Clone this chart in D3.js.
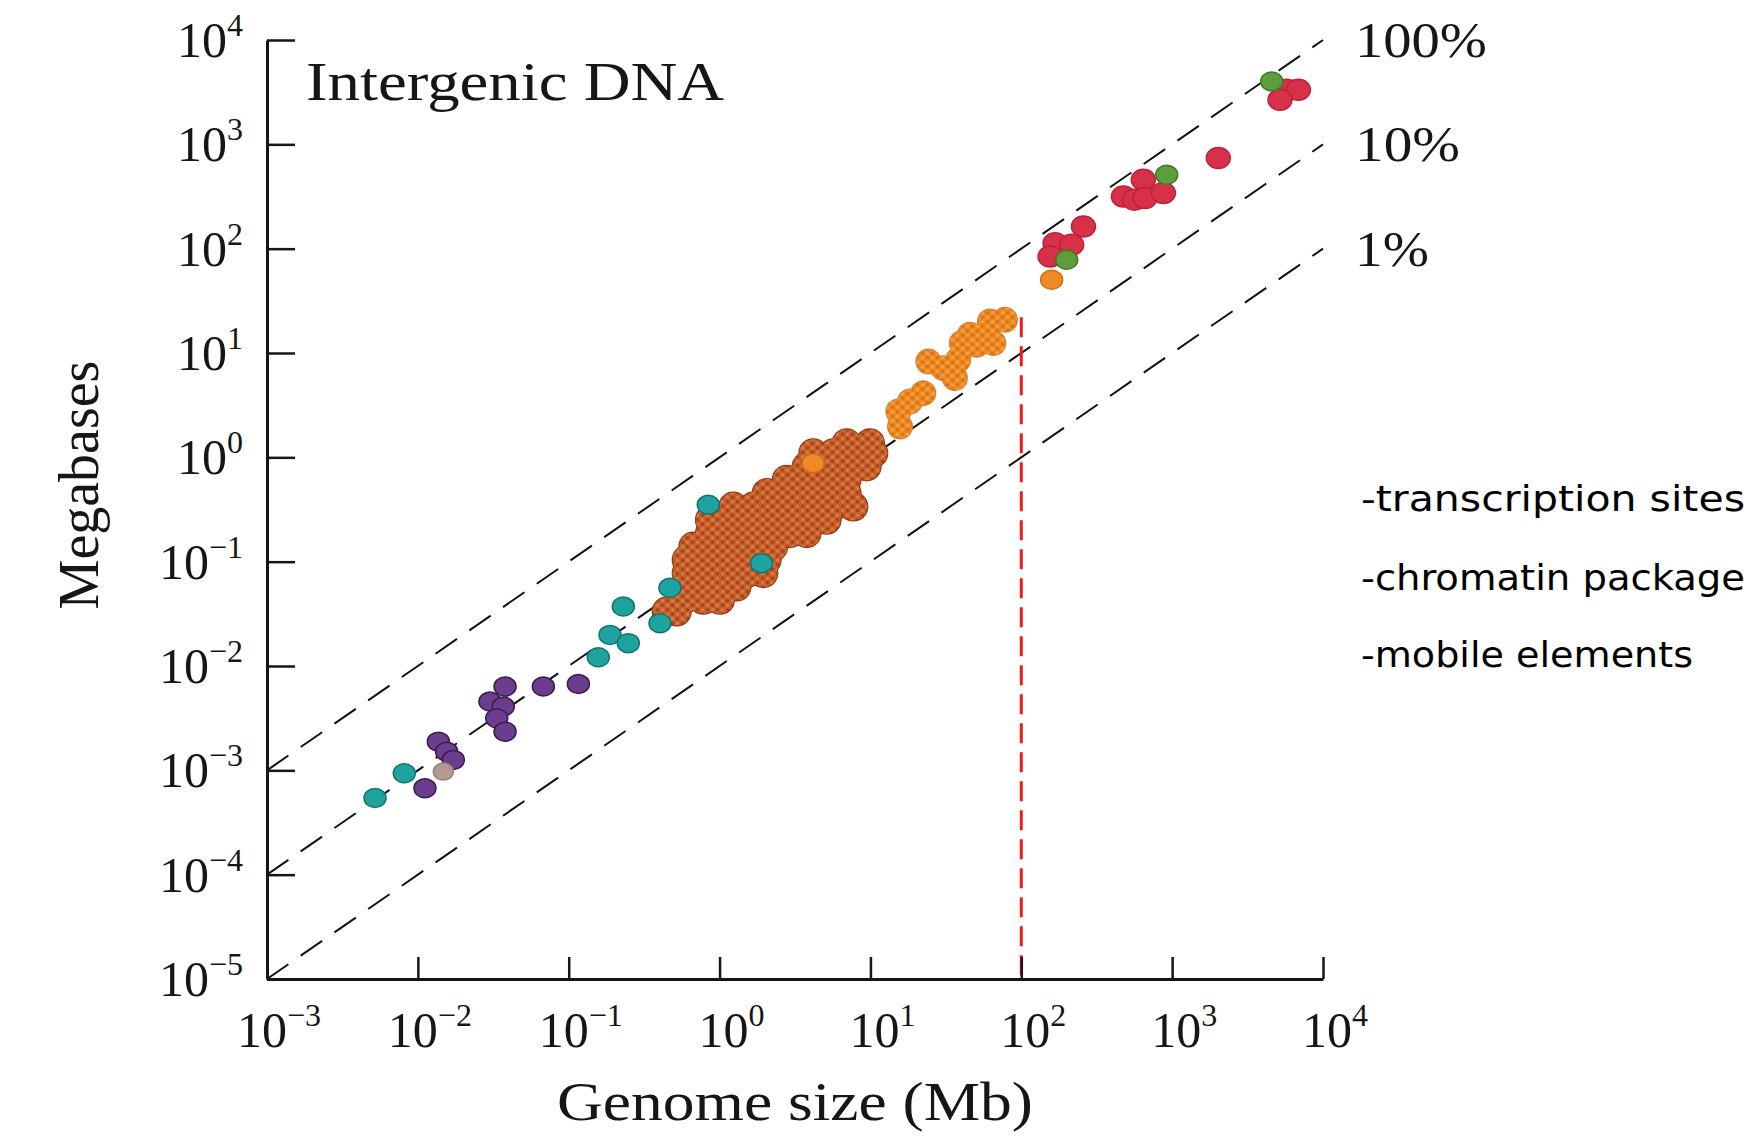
<!DOCTYPE html>
<html>
<head>
<meta charset="utf-8">
<script src="https://cdn.jsdelivr.net/npm/d3@7"></script>
<style>
  body { margin: 0; background: #fff; }
  svg { display: block; }
</style>
</head>
<body>
<svg width="1762" height="1136"></svg>
<script>
/* global d3 */

// Axis ticks (log10 exponents)
const xTickExps = [-3, -2, -1, 0, 1, 2, 3, 4];
const yTickExps = [-5, -4, -3, -2, -1, 0, 1, 2, 3, 4];

// Dashed guides: intergenic DNA as a share of the genome
const percentShares = [1, 0.1, 0.01];
const percentLabels = ['100%', '10%', '1%'];

// Red cut-off line (genome size in Mb, top in Mb)
const cutoffX = 100;
const cutoffTop = 22;

// Points as [log10 genome size (Mb), log10 intergenic DNA (Mb)]
const tealPts = [
  [-2.284, -3.265], [-2.09, -3.028], [-0.804, -1.916], [-0.726, -1.702],
  [-0.605, -1.781], [-0.638, -1.43], [-0.395, -1.59], [-0.329, -1.25],
  [-0.075, -0.455], [0.278, -1.014],
];
const purplePts = [
  [-1.953, -3.172], [-1.864, -2.725], [-1.809, -2.821], [-1.765, -2.9],
  [-1.422, -2.197], [-1.522, -2.341], [-1.434, -2.389], [-1.477, -2.501],
  [-1.422, -2.629], [-1.168, -2.197], [-0.936, -2.172],
];
const tanPts = [[-1.831, -3.012]];
// dense bacterial cluster, read row by row
const brownPts = [
  [0.842, 0.136], [0.997, 0.136],
  [0.621, 0.04], [0.754, 0.04], [0.887, 0.04], [1.019, 0.04],
  [0.577, -0.088], [0.71, -0.088], [0.842, -0.088], [0.975, -0.088],
  [0.445, -0.216], [0.577, -0.216], [0.71, -0.216], [0.842, -0.216],
  [0.312, -0.343], [0.445, -0.343], [0.577, -0.343], [0.71, -0.343], [0.842, -0.343],
  [0.091, -0.472], [0.224, -0.472], [0.356, -0.472], [0.489, -0.472], [0.621, -0.472], [0.754, -0.472], [0.887, -0.472],
  [-0.064, -0.599], [0.069, -0.599], [0.202, -0.599], [0.334, -0.599], [0.467, -0.599], [0.599, -0.599], [0.71, -0.599],
  [-0.064, -0.727], [0.069, -0.727], [0.202, -0.727], [0.334, -0.727], [0.467, -0.727], [0.577, -0.727],
  [-0.174, -0.855], [-0.041, -0.855], [0.091, -0.855], [0.224, -0.855], [0.356, -0.855],
  [-0.218, -0.983], [-0.086, -0.983], [0.047, -0.983], [0.18, -0.983], [0.312, -0.983],
  [-0.218, -1.11], [-0.086, -1.11], [0.047, -1.11], [0.18, -1.11], [0.29, -1.11],
  [-0.218, -1.239], [-0.086, -1.239], [0.047, -1.239], [0.113, -1.239],
  [-0.24, -1.366], [-0.108, -1.366], [0.003, -1.366],
  [-0.351, -1.478], [-0.284, -1.478],
];
const orangePts = [
  [1.196, 0.296], [1.185, 0.439], [1.262, 0.535], [1.35, 0.615],
  [1.384, 0.919], [1.483, 0.855], [1.56, 0.759], [1.582, 0.935], [1.605, 1.095],
  [1.704, 1.079], [1.66, 1.175], [1.77, 1.191], [1.815, 1.095], [1.792, 1.302], [1.892, 1.318],
];
const orangeDots = [[0.62, -0.056], [2.201, 1.702]];
const redPts = [
  [2.224, 2.053], [2.334, 2.037], [2.191, 1.925], [2.412, 2.213],
  [2.677, 2.501], [2.75, 2.47], [2.809, 2.66], [2.82, 2.485], [2.942, 2.533],
  [3.306, 2.868], [3.759, 3.523], [3.837, 3.523], [3.715, 3.427],
];
const greenPts = [[2.301, 1.893], [2.964, 2.708], [3.66, 3.603]];

const notes = ['-transcription sites', '-chromatin package', '-mobile elements'];

const svg = d3.select('svg');
const serif = '"Liberation Serif", "Times New Roman", serif';
const ink = '#161616';

const x = d3.scaleLog().domain([1e-3, 1e4]).range([267, 1323]);
const y = d3.scaleLog().domain([1e-5, 1e4]).range([979, 40]);
const px = (d) => x(10 ** d[0]);
const py = (d) => y(10 ** d[1]);

// Dotted textures for the dense clusters
const defs = svg.append('defs');
function dotPattern(id, base, dark, light) {
  const p = defs.append('pattern')
    .attr('id', id)
    .attr('patternUnits', 'userSpaceOnUse')
    .attr('width', 10)
    .attr('height', 9);
  p.append('rect').attr('width', 10).attr('height', 9).attr('fill', base);
  [[2.5, 2.25], [7.5, 6.75]].forEach(([cx, cy]) => {
    p.append('circle').attr('cx', cx).attr('cy', cy).attr('r', 1.8).attr('fill', dark);
  });
  [[7.5, 2.25], [2.5, 6.75]].forEach(([cx, cy]) => {
    p.append('circle').attr('cx', cx).attr('cy', cy).attr('r', 1.6).attr('fill', light);
  });
}
dotPattern('brownTex', '#c8602c', '#a3441a', '#de7c48');
dotPattern('orangeTex', '#ef8a22', '#d87314', '#f8a247');

// Percent guide lines
const line = d3.line().x((d) => x(d[0])).y((d) => y(d[1]));
percentShares.forEach((p, i) => {
  svg.append('path')
    .attr('d', line([[1e-3, 1e-3 * p], [1e4, 1e4 * p]]))
    .attr('fill', 'none')
    .attr('stroke', '#111')
    .attr('stroke-width', 2)
    .attr('stroke-dasharray', '26 15');

  svg.append('text')
    .attr('x', x(1e4) + 32)
    .attr('y', y(1e4 * p) + 17)
    .attr('font-family', serif)
    .attr('font-size', 50)
    .attr('fill', ink)
    .attr('textLength', [132, 105, 74][i])
    .attr('lengthAdjust', 'spacingAndGlyphs')
    .text(percentLabels[i]);
});

// Cut-off line
svg.append('line')
  .attr('x1', x(cutoffX))
  .attr('x2', x(cutoffX))
  .attr('y1', y(cutoffTop))
  .attr('y2', y(1e-5))
  .attr('stroke', '#ee1c1c')
  .attr('stroke-width', 3)
  .attr('stroke-dasharray', '20 9');

// Blobs drawn as overlapping textured discs with one outer edge
function blob(data, r, edge, fill) {
  const g = svg.append('g');
  g.selectAll('circle.edge')
    .data(data)
    .join('circle')
    .attr('class', 'edge')
    .attr('cx', px)
    .attr('cy', py)
    .attr('r', r + 1)
    .attr('fill', edge);
  g.selectAll('circle.fill')
    .data(data)
    .join('circle')
    .attr('class', 'fill')
    .attr('cx', px)
    .attr('cy', py)
    .attr('r', r)
    .attr('fill', fill);
}

function dots(data, r, fill, stroke) {
  svg.append('g')
    .selectAll('ellipse')
    .data(data)
    .join('ellipse')
    .attr('cx', px)
    .attr('cy', py)
    .attr('rx', r + 1)
    .attr('ry', r - 0.5)
    .attr('fill', fill)
    .attr('stroke', stroke)
    .attr('stroke-width', 1.5);
}

blob(brownPts, 14, '#8a3613', 'url(#brownTex)');
blob(orangePts, 12, '#d08238', 'url(#orangeTex)');
dots(orangeDots, 10, '#f08a24', '#d07018');
dots(tealPts, 10, '#1fa39e', '#137470');
dots(purplePts, 10, '#6b3d8e', '#3a1d4e');
dots(tanPts, 9, '#b49a92', '#9a8078');
dots(redPts, 11, '#d9304a', '#b8243c');
dots(greenPts, 10, '#5c9e3a', '#3f7a26');

// Axes
const xAxis = d3.axisBottom(x)
  .tickValues(xTickExps.map((e) => 10 ** e))
  .tickSizeInner(-22)
  .tickSizeOuter(0)
  .tickFormat('');
const yAxis = d3.axisLeft(y)
  .tickValues(yTickExps.map((e) => 10 ** e))
  .tickSizeInner(-28)
  .tickSizeOuter(0)
  .tickFormat('');

const gx = svg.append('g').attr('transform', `translate(0, ${y(1e-5)})`).call(xAxis);
const gy = svg.append('g').attr('transform', `translate(${x(1e-3)}, 0)`).call(yAxis);
[gx, gy].forEach((g) => {
  g.select('.domain').attr('stroke', ink).attr('stroke-width', 3);
  g.selectAll('.tick line').attr('stroke', ink).attr('stroke-width', 2.5);
  g.selectAll('.tick text').remove();
});

function powerLabel(sel, e) {
  sel.append('tspan').text('10');
  sel.append('tspan')
    .attr('font-size', 32)
    .attr('dy', -21)
    .text(e < 0 ? `\u2212${-e}` : `${e}`);
}

xTickExps.forEach((e) => {
  svg.append('text')
    .attr('x', x(10 ** e) + 12)
    .attr('y', y(1e-5) + 68)
    .attr('text-anchor', 'middle')
    .attr('font-family', serif)
    .attr('font-size', 50)
    .attr('fill', ink)
    .call(powerLabel, e);
});

yTickExps.forEach((e) => {
  svg.append('text')
    .attr('x', 243)
    .attr('y', y(10 ** e) + 17)
    .attr('text-anchor', 'end')
    .attr('font-family', serif)
    .attr('font-size', 50)
    .attr('fill', ink)
    .call(powerLabel, e);
});

// Titles
svg.append('text')
  .attr('x', 306)
  .attr('y', 100)
  .attr('font-family', serif)
  .attr('font-size', 54)
  .attr('fill', ink)
  .attr('textLength', 418)
  .attr('lengthAdjust', 'spacingAndGlyphs')
  .text('Intergenic DNA');

svg.append('text')
  .attr('x', 557)
  .attr('y', 1120)
  .attr('font-family', serif)
  .attr('font-size', 54)
  .attr('fill', ink)
  .attr('textLength', 476)
  .attr('lengthAdjust', 'spacingAndGlyphs')
  .text('Genome size (Mb)');

svg.append('text')
  .attr('transform', 'translate(98, 485) rotate(-90)')
  .attr('text-anchor', 'middle')
  .attr('font-family', serif)
  .attr('font-size', 56)
  .attr('fill', ink)
  .text('Megabases');

// Side notes
const noteWidths = [384, 384, 332];
const noteBaselines = [511, 590, 667];
notes.forEach((t, i) => {
  svg.append('text')
    .attr('x', 1361)
    .attr('y', noteBaselines[i])
    .attr('font-family', '"Comic Sans MS", "DejaVu Sans Condensed", "DejaVu Sans", sans-serif')
    .attr('font-size', 36)
    .attr('fill', '#000')
    .attr('textLength', noteWidths[i])
    .attr('lengthAdjust', 'spacingAndGlyphs')
    .text(t);
});
</script>
</body>
</html>
